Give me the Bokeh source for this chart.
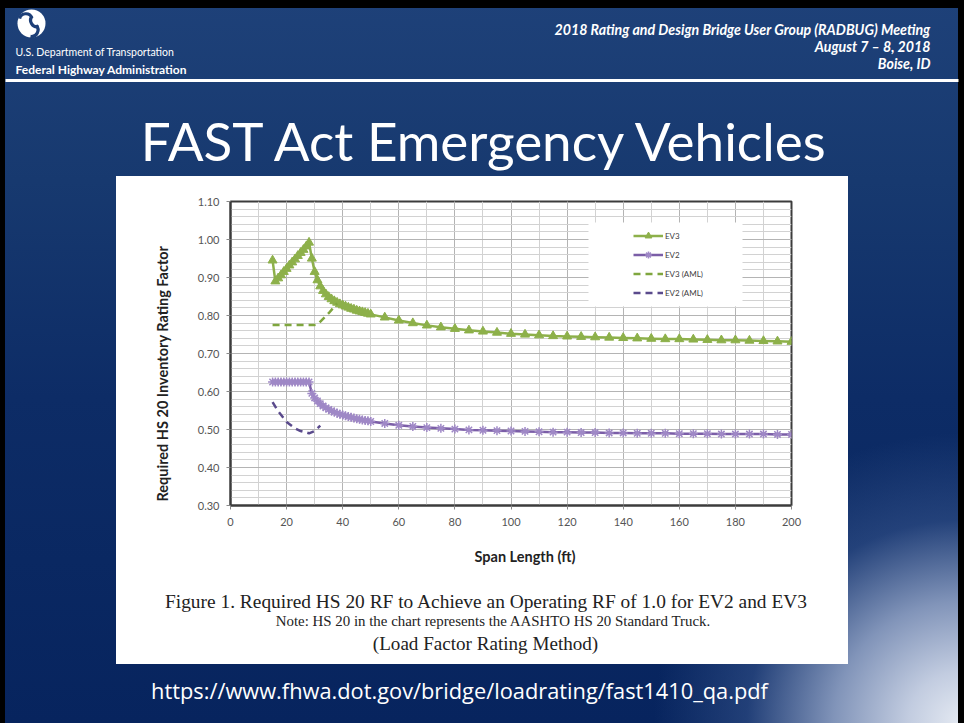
import math
from bokeh.plotting import figure
from bokeh.models import (Range1d, Label, BoxAnnotation, FixedTicker, NumeralTickFormatter, Spacer,
                          Title)
from bokeh.layouts import column, row
from bokeh.embed import file_html
from bokeh.resources import INLINE

# ---------------- data ----------------
span_ft = [15, 16, 17, 18, 19, 20, 21, 22, 23, 24, 25, 26, 27, 28, 29, 30, 31, 32, 33, 34,
           35, 36, 37, 38, 39, 40, 41, 42, 43, 44, 45, 46, 47, 48, 49, 50,
           55, 60, 65, 70, 75, 80, 85, 90, 95, 100, 105, 110, 115, 120, 125, 130, 135, 140,
           145, 150, 155, 160, 165, 170, 175, 180, 185, 190, 195, 200]
ev3 = [0.945, 0.890, 0.898, 0.906, 0.915, 0.923, 0.932, 0.940, 0.948, 0.957, 0.965, 0.973, 0.982, 0.992,
       0.950, 0.915, 0.893, 0.877, 0.865, 0.856, 0.849, 0.843, 0.838, 0.834, 0.830, 0.827, 0.824, 0.821,
       0.818, 0.816, 0.813, 0.811, 0.809, 0.807, 0.805, 0.803,
       0.795, 0.787, 0.780, 0.774, 0.769, 0.765, 0.761, 0.758, 0.755, 0.752, 0.750, 0.748, 0.746, 0.745,
       0.744, 0.743, 0.742, 0.741, 0.740, 0.739, 0.738, 0.738, 0.737, 0.736, 0.735, 0.735, 0.734, 0.733,
       0.732, 0.731]
ev2 = [0.625, 0.625, 0.625, 0.625, 0.625, 0.625, 0.625, 0.625, 0.625, 0.625, 0.625, 0.625, 0.625, 0.625,
       0.595, 0.583, 0.575, 0.568, 0.562, 0.557, 0.553, 0.549, 0.546, 0.543, 0.540, 0.538, 0.536, 0.534,
       0.532, 0.530, 0.528, 0.527, 0.525, 0.524, 0.523, 0.521,
       0.516, 0.511, 0.508, 0.505, 0.503, 0.501, 0.499, 0.498, 0.497, 0.496, 0.495, 0.494, 0.493, 0.493,
       0.492, 0.492, 0.491, 0.491, 0.490, 0.490, 0.490, 0.489, 0.489, 0.489, 0.488, 0.488, 0.488, 0.488,
       0.487, 0.487]
ev3_aml_span = [15, 20, 25, 30, 31, 35, 38]
ev3_aml = [0.775, 0.775, 0.775, 0.775, 0.776, 0.806, 0.832]
ev2_aml_span = [15, 17, 20, 23, 25, 28, 30, 32]
ev2_aml = [0.572, 0.548, 0.520, 0.503, 0.496, 0.490, 0.496, 0.510]

x_major = [0, 20, 40, 60, 80, 100, 120, 140, 160, 180, 200]
x_minor = [0, 10, 20, 30, 40, 50, 60, 70, 80, 90, 100, 110, 120, 130, 140, 150, 160, 170, 180, 190, 200]
y_major = [0.30, 0.40, 0.50, 0.60, 0.70, 0.80, 0.90, 1.00, 1.10]
y_minor = [0.30, 0.32, 0.34, 0.36, 0.38, 0.40, 0.42, 0.44, 0.46, 0.48, 0.50, 0.52, 0.54, 0.56, 0.58,
           0.60, 0.62, 0.64, 0.66, 0.68, 0.70, 0.72, 0.74, 0.76, 0.78, 0.80, 0.82, 0.84, 0.86, 0.88,
           0.90, 0.92, 0.94, 0.96, 0.98, 1.00, 1.02, 1.04, 1.06, 1.08, 1.10]

GREEN = "#8db04a"
GREEN_D = "#7fa63e"
PURPLE = "#7b5ea7"
PURPLE_M = "#9f88c6"
PURPLE_D = "#5a4a8c"
TXT = "#404040"


def blank(width, height, x0, x1, y0, y1, white=False):
    f = figure(width=width, height=height, x_range=Range1d(x0, x1), y_range=Range1d(y0, y1),
               output_backend="svg", toolbar_location=None, x_axis_type=None, y_axis_type=None,
               min_border=0, min_border_left=0, min_border_right=0, min_border_top=0,
               min_border_bottom=0)
    f.outline_line_color = None
    if white:
        f.background_fill_color = "white"
        f.border_fill_color = "white"
    else:
        f.background_fill_alpha = 0
        f.border_fill_alpha = 0
    f.grid.visible = False
    return f

# ---------------- header (page coordinates) ----------------
top = blank(964, 176, 0, 964, 176, 0)
top.circle(x=31, y=23, radius=14, fill_color="white", line_color=None)
for k in range(3):
    th = math.radians(90 + 120 * k)
    cx = 31 + 6.5 * math.cos(th)
    cy = 23 + 6.5 * math.sin(th)
    top.arc(x=cx, y=cy, radius=6.5, start_angle=th + math.pi * 0.95, end_angle=th + math.pi * 1.75,
            line_color="#1d3f78", line_width=3.2)
top.add_layout(Label(x=15, y=51, text="U.S. Department of Transportation", text_color="white",
                     text_font="Lato", text_font_size="10.5px",
                     text_baseline="middle", text_align="left"))
top.add_layout(Label(x=15, y=69, text="Federal Highway Administration", text_color="white",
                     text_font="Lato", text_font_style="bold",
                     text_font_size="12px", text_baseline="middle", text_align="left"))
top.quad(left=5, right=958, top=78.5, bottom=81.5, fill_color="white", line_color=None)
for yy, tt in [(29, "2018 Rating and Design Bridge User Group (RADBUG) Meeting"),
               (46, "August 7 \u2013 8, 2018"), (63, "Boise, ID")]:
    top.add_layout(Label(x=930, y=yy, text=tt, text_color="white", text_font="Lato",
                         text_font_style="bold italic", text_font_size="14.2px",
                         text_baseline="middle", text_align="right"))
top.add_layout(Label(x=486, y=140, text="FAST Act Emergency Vehicles", text_color="white",
                     text_font="Lato", text_font_size="53px", text_baseline="middle",
                     text_align="center"))

# ---------------- chart ----------------
chart = figure(width=732, height=409, x_range=Range1d(0, 200), y_range=Range1d(0.30, 1.10),
               output_backend="svg", toolbar_location=None,
               min_border_left=114, min_border_right=57, min_border_top=25, min_border_bottom=80)
chart.background_fill_color = "white"
chart.border_fill_color = "white"
chart.outline_line_color = "#3c3c3c"
chart.outline_line_width = 2

chart.xaxis.ticker = FixedTicker(ticks=x_major, minor_ticks=x_minor)
chart.yaxis.ticker = FixedTicker(ticks=y_major, minor_ticks=y_minor)
chart.yaxis.formatter = NumeralTickFormatter(format="0.00")
for ax in (chart.xaxis[0], chart.yaxis[0]):
    ax.axis_line_color = "#3c3c3c"
    ax.axis_line_width = 2
    ax.major_tick_line_color = "#8a8a8a"
    ax.major_tick_out = 4
    ax.major_tick_in = 0
    ax.minor_tick_line_color = None
    ax.major_label_text_font = "Lato"
    ax.major_label_text_font_size = "11px"
    ax.major_label_text_color = "#555555"
chart.yaxis.major_label_standoff = 7
chart.xaxis.major_label_standoff = 8

xtitle = Title(text="Span Length (ft)", align="left", offset=244,
               text_font="Lato", text_font_style="bold", text_font_size="14.5px",
               text_color="#222222", standoff=35)
chart.add_layout(xtitle, "below")
ytitle = Title(text="Required HS 20 Inventory  Rating Factor", align="left", offset=4,
               text_font="Lato", text_font_style="bold", text_font_size="14.5px",
               text_color="#222222", standoff=48)
chart.add_layout(ytitle, "left")

chart.xgrid.grid_line_color = "#b4b4b4"
chart.xgrid.minor_grid_line_color = "#d2d2d2"
chart.ygrid.grid_line_color = "#b4b4b4"
chart.ygrid.minor_grid_line_color = "#d2d2d2"

chart.add_layout(BoxAnnotation(left=358, right=512, top=283, bottom=199,
                               left_units="screen", right_units="screen",
                               top_units="screen", bottom_units="screen",
                               fill_color="white", fill_alpha=1, line_color=None))

chart.line(span_ft, ev3, line_color=GREEN, line_width=2.5, legend_label="EV3")
chart.scatter(span_ft, ev3, marker="triangle", size=9, fill_color=GREEN, line_color=GREEN,
              legend_label="EV3")
chart.line(span_ft, ev2, line_color=PURPLE, line_width=2.5, legend_label="EV2")
chart.scatter(span_ft, ev2, marker="asterisk", size=9, line_color=PURPLE_M, line_width=1.5,
              legend_label="EV2")
chart.line(ev3_aml_span, ev3_aml, line_color=GREEN_D, line_width=2.5, line_dash="7 5",
           legend_label="EV3 (AML)")
chart.line(ev2_aml_span, ev2_aml, line_color=PURPLE_D, line_width=2.5, line_dash="7 5",
           legend_label="EV2 (AML)")

lg = chart.legend[0]
lg.location = (403, 204)
lg.glyph_width = 30
lg.glyph_height = 17
lg.label_height = 17
lg.spacing = 2
lg.padding = 6
lg.margin = 0
lg.label_standoff = 2
lg.label_text_font = "Lato"
lg.label_text_font_size = "8px"
lg.label_text_color = TXT
lg.background_fill_alpha = 0
lg.border_line_color = None

# ---------------- caption (page coordinates) ----------------
cap = blank(732, 79, 116, 848, 664, 585, white=True)
cap.add_layout(Label(x=486, y=601,
                     text="Figure 1. Required HS 20 RF to Achieve an Operating RF of 1.0 for EV2 and EV3",
                     text_font="Liberation Serif", text_font_size="19.4px", text_color="#222222",
                     text_align="center", text_baseline="middle"))
cap.add_layout(Label(x=493, y=620,
                     text="Note: HS 20 in the chart represents the AASHTO HS 20 Standard Truck.",
                     text_font="Liberation Serif", text_font_size="14.9px", text_color="#222222",
                     text_align="center", text_baseline="middle"))
cap.add_layout(Label(x=485, y=643, text="(Load Factor Rating Method)",
                     text_font="Liberation Serif", text_font_size="19.1px", text_color="#222222",
                     text_align="center", text_baseline="middle"))

# ---------------- footer (page coordinates) ----------------
bottom = blank(964, 59, 0, 964, 723, 664)
bottom.add_layout(Label(x=459, y=690, text="https://www.fhwa.dot.gov/bridge/loadrating/fast1410_qa.pdf",
                        text_color="white", text_font="Open Sans", text_font_size="21.8px",
                        text_baseline="middle", text_align="center"))

bg = ("radial-gradient(ellipse 310px 290px at 100% 100%, #e6ebf3 0%, #c2cce0 18%, #8194b9 42%, "
      "rgba(60,90,145,0.5) 70%, rgba(25,55,110,0) 100%), "
      "linear-gradient(180deg, #1e4179 0%, #17396f 25%, #0d2c66 55%, #07245e 100%)")
stripe = {"background": "linear-gradient(90deg, rgba(0,0,0,0) 116px, #ffffff 116px, "
                        "#ffffff 848px, rgba(0,0,0,0) 848px)"}
page = column(top,
              row(Spacer(width=116, height=409), chart, Spacer(width=116, height=409), styles=stripe),
              row(Spacer(width=116, height=79), cap, Spacer(width=116, height=79), styles=stripe),
              bottom,
              styles={"background": bg,
                      "box-shadow": "inset 5px 8px 0 0 #000, inset -6px 0 0 0 #000"})

open("out.html", "w").write(file_html(page, INLINE))
